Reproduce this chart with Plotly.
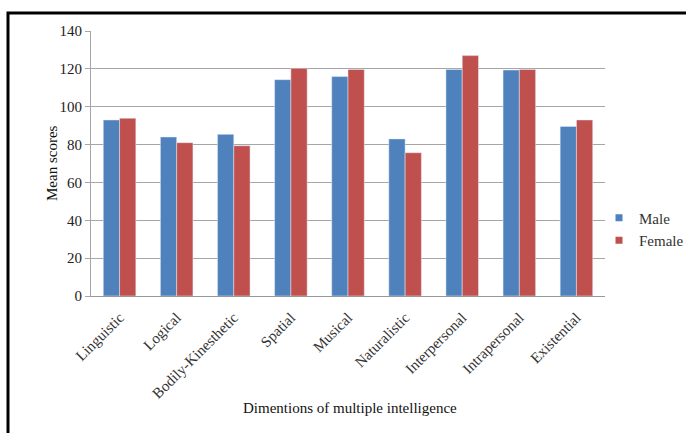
import plotly.graph_objects as go

categories = ["Linguistic", "Logical", "Bodily-Kinesthetic", "Spatial", "Musical",
              "Naturalistic", "Interpersonal", "Intrapersonal", "Existential"]
male = [93, 84, 85.4, 114.3, 115.9, 83, 119.7, 119.4, 89.6]
female = [93.9, 81, 79.4, 120.3, 119.7, 75.7, 127, 119.7, 93]
series_names = ["Male", "Female"]
colors = ["#4F81BD", "#C0504D"]

FONT = "Liberation Serif"

fig = go.Figure()
for name, vals, col in zip(series_names, [male, female], colors):
    fig.add_trace(go.Bar(name=name, x=categories, y=vals, marker_color=col,
                         showlegend=False))
for name, col in zip(series_names, colors):
    fig.add_trace(go.Scatter(name=name, x=[None], y=[None], mode="markers",
                             marker=dict(symbol="square", size=7, color=col),
                             showlegend=True))

W, H = 686, 433
L, R, T, B = 91, 81, 31, 137
pw, ph = W - L - R, H - T - B

def px(x):
    return (x - L) / pw

def py(y):
    return (H - B - y) / ph

fig.update_layout(
    width=W, height=H,
    margin=dict(l=L, r=R, t=T, b=B, autoexpand=False),
    paper_bgcolor="white", plot_bgcolor="white",
    barmode="group", bargap=0.43, bargroupgap=0,
    font=dict(family=FONT, size=15, color="#222"),
    showlegend=True,
    legend=dict(x=px(599), y=py(229), xanchor="left", yanchor="middle",
                font=dict(family=FONT, size=15, color="#333"),
                itemwidth=30, tracegroupgap=0, bgcolor="rgba(0,0,0,0)"),
    xaxis=dict(tickangle=-45, showline=True, linecolor="#999", linewidth=1,
               ticks="", tickfont=dict(family=FONT, size=15, color="#333"),
               ticklabelstandoff=6,
               showgrid=False, automargin=False),
    yaxis=dict(range=[0, 140], dtick=20, showgrid=True, gridcolor="#A6A6A6",
               gridwidth=1, showline=True, linecolor="#A6A6A6", ticks="outside",
               ticklen=5, tickcolor="#A6A6A6", automargin=False,
               tickfont=dict(family=FONT, size=15, color="#222"), zeroline=False),
    annotations=[
        dict(text="Dimentions of multiple intelligence", x=px(350), y=py(418),
             xref="paper", yref="paper", showarrow=False,
             font=dict(family=FONT, size=15, color="#111")),
        dict(text="Mean scores", x=px(42), y=py(163), xref="paper", yref="paper",
             showarrow=False, textangle=-90,
             font=dict(family=FONT, size=15, color="#111")),
    ],
    shapes=[
        dict(type="rect", xref="paper", yref="paper",
             x0=px(8), x1=px(720), y0=py(470), y1=py(13),
             line=dict(color="black", width=3)),
    ],
)

fig.write_html("out.html")
